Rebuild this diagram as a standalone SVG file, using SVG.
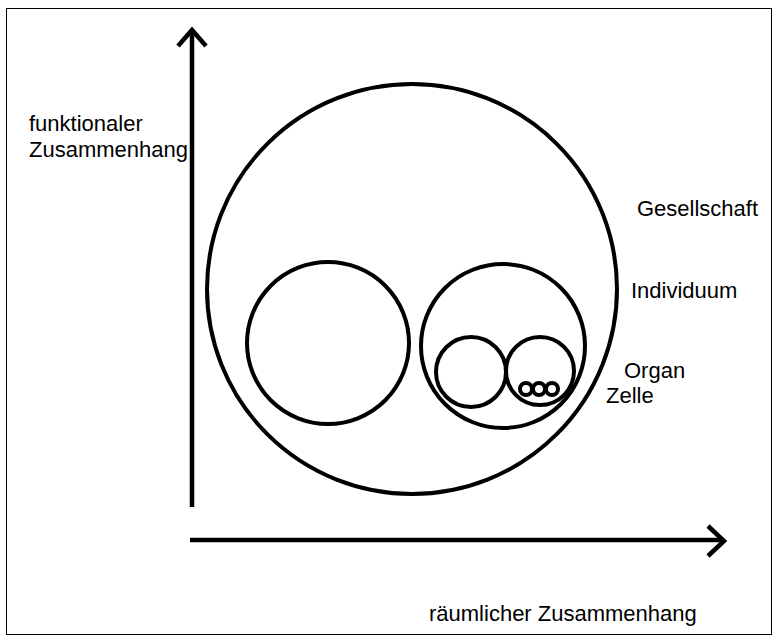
<svg xmlns="http://www.w3.org/2000/svg" width="773" height="641" viewBox="0 0 773 641">
<style>
.c{fill:none;stroke:#000;stroke-width:4}
.a{fill:none;stroke:#000;stroke-width:4.5;stroke-linecap:butt;stroke-linejoin:miter}
.t{font-family:"Liberation Sans",Arial,sans-serif;font-size:22px;fill:#000}
</style>
<rect x="0" y="0" width="773" height="641" fill="#fff"/>
<rect x="6.5" y="8.5" width="765" height="626" fill="none" stroke="#000" stroke-width="1"/>
<g id="labels">
<text class="t" x="29" y="131">funktionaler</text>
<text class="t" x="29" y="157">Zusammenhang</text>
<text class="t" x="637" y="216">Gesellschaft</text>
<text class="t" x="631" y="298">Individuum</text>
<text class="t" x="624" y="378">Organ</text>
<text class="t" x="606" y="403">Zelle</text>
<text class="t" x="429" y="621">räumlicher Zusammenhang</text>
</g>
<g id="connectors">
<line class="a" x1="192" y1="31" x2="192" y2="507"/>
<polyline class="a" points="178,46 192,30 206,46"/>
<line class="a" x1="190" y1="540" x2="723" y2="540"/>
<polyline class="a" points="708,526 724,541 708,556"/>
</g>
<g id="gesellschaft"><circle class="c" cx="412" cy="289" r="205"/></g>
<g id="left-individuum"><circle class="c" cx="328" cy="343" r="81"/></g>
<g id="individuum"><circle class="c" cx="503" cy="346" r="82"/></g>
<g id="organ1"><circle class="c" cx="471" cy="372" r="35"/></g>
<g id="organ2"><circle class="c" cx="540" cy="371" r="34"/></g>
<g id="zellen">
<circle class="c" cx="526" cy="389" r="6" stroke-width="3"/>
<circle class="c" cx="539" cy="389" r="6" stroke-width="3"/>
<circle class="c" cx="552" cy="389" r="6" stroke-width="3"/>
</g>
</svg>
